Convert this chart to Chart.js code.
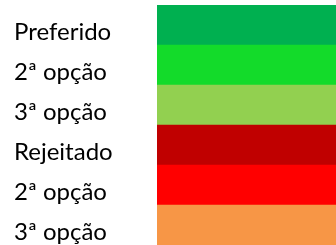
<!DOCTYPE html>
<html>
<head>
<meta charset="utf-8">
<script src="https://cdn.jsdelivr.net/npm/chart.js@4"></script>
<style>
html,body{margin:0;padding:0;background:#fff;}
#wrap{width:336px;height:245px;position:relative;}
</style>
</head>
<body>
<div id="wrap"><canvas id="c"></canvas></div>
<script>
const categories = ["Preferido", "2ª opção", "3ª opção", "Rejeitado", "2ª opção", "3ª opção"];
const values = [1, 1, 1, 1, 1, 1];
const colors = ["#00B050", "#13DB2A", "#92D050", "#C00000", "#FF0000", "#F79646"];

new Chart(document.getElementById('c'), {
  type: 'bar',
  data: {
    labels: categories,
    datasets: [{
      data: values,
      backgroundColor: colors,
      borderWidth: 0,
      barPercentage: 1,
      categoryPercentage: 1
    }]
  },
  options: {
    indexAxis: 'y',
    responsive: true,
    maintainAspectRatio: false,
    animation: false,
    layout: { padding: { left: 14, top: 5, right: 0, bottom: 0 } },
    plugins: { legend: { display: false }, tooltip: { enabled: false } },
    scales: {
      x: { display: false, min: 0, max: 1 },
      y: {
        grid: { display: false },
        border: { display: false },
        afterFit: (s) => { s.width = 143; s.paddingTop = 0; s.paddingBottom = 0; },
        ticks: {
          crossAlign: 'far',
          labelOffset: 7,
          color: '#000',
          font: { family: 'Lato', size: 24 }
        }
      }
    }
  }
});
</script>
</body>
</html>
